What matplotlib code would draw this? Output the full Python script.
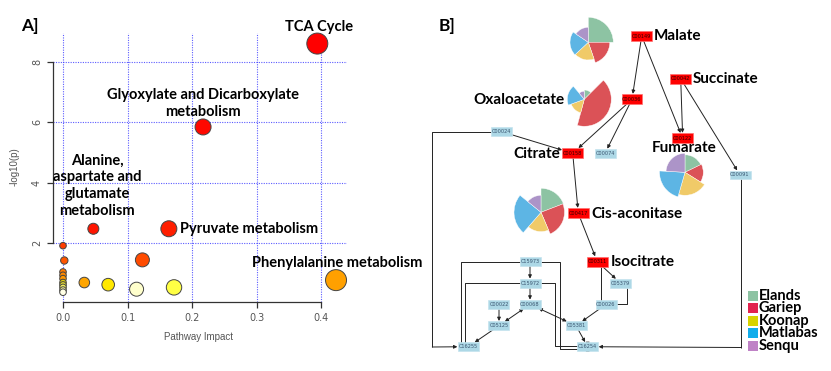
import matplotlib
matplotlib.use('Agg')
import matplotlib.pyplot as plt
from matplotlib.patches import Wedge, Rectangle, FancyArrowPatch

W, H = 831, 371
BOLD = ['Lato', 'DejaVu Sans']

# ---------------- panel A data ----------------
impact = [0.394, 0.217, 0.047, 0.164, 0.0, 0.002, 0.123, 0.0, 0.0, 0.0, 0.0, 0.0,
          0.0, 0.0, 0.0, 0.033, 0.070, 0.114, 0.172, 0.423]
logp = [8.6, 5.84, 2.47, 2.47, 1.91, 1.42, 1.44, 1.04, 0.93, 0.82, 0.69, 0.61,
        0.53, 0.44, 0.37, 0.69, 0.62, 0.47, 0.53, 0.77]
radius_px = [10.5, 8, 5.5, 8, 3.3, 3.7, 7, 3.3, 3.3, 3.3, 3.3, 3.3,
             3.3, 3.3, 3.3, 5.3, 6.3, 7, 7.7, 10.5]
point_colors = ['#FF0000', '#FF0800', '#FF1500', '#FF1E00', '#FF3C00', '#FF5500',
                '#FF4B00', '#FF7A00', '#FF8800', '#FF9600', '#DCCB10', '#E8E030',
                '#F2EE60', '#FAF8A0', '#FFFFE6', '#FFA500', '#FFE800', '#FFFFCC',
                '#FFFF44', '#FFA000']

pathway_labels = ['TCA Cycle', 'Glyoxylate and Dicarboxylate\nmetabolism',
                  'Alanine,\naspartate and\nglutamate\nmetabolism',
                  'Pyruvate metabolism', 'Phenylalanine metabolism']
label_xy = [(0.397, 9.15), (0.217, 6.62), (0.053, 3.9), (0.181, 2.47), (0.293, 1.34)]
label_ha = ['center', 'center', 'center', 'left', 'left']

# ---------------- panel B data ----------------
sites = ['Elands', 'Gariep', 'Koonap', 'Matlabas', 'Senqu']
legend_colors = ['#8DC3A3', '#E2234E', '#D8D400', '#12ADEB', '#BF82C6']
pie_colors = ['#8DC3A3', '#DB5257', '#F0CA68', '#5DB5E4', '#AC94C8']

pie_names = ['Malate', 'Oxaloacetate', 'Fumarate', 'Cis-aconitase']
pie_spans = [[90, 71, 66, 77, 56],
             [45, 150, 55, 70, 40],
             [64, 58, 74, 77, 87],
             [69, 88, 64, 88, 51]]
pie_radii = [[25, 21.5, 17.7, 18.3, 15],
             [9.3, 27, 14, 17, 8],
             [17.5, 18.3, 23, 25.5, 19],
             [24, 23.5, 19.3, 27, 17]]
pie_centers = [(588.3, 42.3), (584.3, 99.3), (685, 172.3), (541, 212.3)]

# KEGG compounds: name -> (x, y, hit)
nodes = {
    'C00149': (641.7, 36, True), 'C00042': (680.7, 78.7, True),
    'C00036': (632, 99.3, True), 'C00122': (682.7, 138.3, True),
    'C00158': (572.7, 153.3, True), 'C00417': (578.3, 213.3, True),
    'C00311': (597.3, 261.7, True),
    'C00024': (501.7, 131.7, False), 'C00074': (605, 153.3, False),
    'C00091': (740, 175, False), 'C15973': (530, 261.7, False),
    'C15972': (530, 283.3, False), 'C00068': (530, 304.3, False),
    'C00022': (499, 304.3, False), 'C05125': (499, 325.7, False),
    'C16255': (468.3, 346.7, False), 'C05379': (620.7, 283.3, False),
    'C00026': (606, 304.3, False), 'C05381': (576, 325.7, False),
    'C16254': (587.7, 346.7, False),
}
compound_names = {'C00149': ('Malate', 'left'), 'C00042': ('Succinate', 'left'),
                  'C00036': ('Oxaloacetate', 'right'), 'C00122': ('Fumarate', 'center'),
                  'C00158': ('Citrate', 'right'), 'C00417': ('Cis-aconitase', 'left'),
                  'C00311': ('Isocitrate', 'left')}
name_xy = {'C00149': (654, 36), 'C00042': (693, 78.7), 'C00036': (565, 100),
           'C00122': (684, 148), 'C00158': (560, 153.5), 'C00417': (591.5, 213.5),
           'C00311': (610.5, 262)}

edges = [('C00149', 'C00036', '-|>'), ('C00149', 'C00122', '-|>'),
         ('C00042', 'C00122', '-|>'), ('C00042', 'C00091', '-|>'),
         ('C00036', 'C00158', '-|>'), ('C00036', 'C00074', '-|>'),
         ('C00024', 'C00158', '-|>'), ('C00158', 'C00417', '-|>'),
         ('C00417', 'C00311', '-|>'), ('C00311', 'C05379', '-|>'),
         ('C00026', 'C05381', '-|>'), ('C00068', 'C05381', '<|-|>'),
         ('C05381', 'C16254', '-|>'), ('C15973', 'C15972', '-|>'),
         ('C15972', 'C00068', '-|>'), ('C00022', 'C05125', '-|>'),
         ('C05125', 'C00068', '<|-|>'), ('C05125', 'C16255', '-|>')]
# routed edges: source, waypoints, target
elbows = [('C00024', [(491, 131.7), (432.3, 131.7), (432.3, 347)], 'C16255'),
          ('C00091', [(741, 179), (741, 347.5)], 'C16254'),
          ('C15973', [(519.5, 262), (461, 262), (461, 346.7)], 'C16255'),
          ('C15972', [(519.5, 283.3), (465.5, 283.3), (465.5, 346.7)], 'C16255'),
          ('C15973', [(540.5, 262), (560, 262), (560, 349), (587.7, 349)], 'C16254'),
          ('C15972', [(540.5, 283.3), (554.5, 283.3), (554.5, 346), (587.7, 346)], 'C16254'),
          ('C00311', [(601, 266.7), (601, 304.3)], 'C00026'),
          ('C05379', [(626.5, 287.5), (626.5, 304.3), (606, 304.3)], 'C00026')]

fig = plt.figure(figsize=(W / 100, H / 100), dpi=100)


def fx(px):
    return px / W


def fy(py):
    return 1 - py / H


# ---------------- panel A ----------------
ax = fig.add_axes([fx(53), fy(302), fx(347) - fx(53), fy(33) - fy(302)])
ax.set_xlim(-0.0155, 0.44)
ax.set_ylim(0.046, 8.95)
sizes = [(2 * r * 0.72) ** 2 for r in radius_px]
ax.scatter(impact, logp, s=sizes, c=point_colors, edgecolors='#444444',
           linewidths=0.7, zorder=3, clip_on=False)
ax.set_xticks([0, 0.1, 0.2, 0.3, 0.4])
ax.set_xticklabels(['0.0', '0.1', '0.2', '0.3', '0.4'])
ax.set_yticks([2, 4, 6, 8])
ax.grid(True, color='#3333FF', linestyle=(0, (1, 1.2)), linewidth=0.8, alpha=0.8)
for s in ['top', 'right']:
    ax.spines[s].set_visible(False)
ax.spines['left'].set_bounds(2, 8)
ax.spines['bottom'].set_bounds(0, 0.4)
for s in ['left', 'bottom']:
    ax.spines[s].set_color('#333333')
    ax.spines[s].set_linewidth(0.9)
ax.tick_params(length=4, width=0.9, color='#333333', labelsize=7,
               labelcolor='#555555', pad=4)
for t in ax.get_yticklabels():
    t.set_rotation(90)
    t.set_va('center')
ax.set_facecolor('none')
for name, (lx, ly), ha in zip(pathway_labels, label_xy, label_ha):
    ax.text(lx, ly, name, ha=ha, va='center', fontsize=10.5, fontweight='bold',
            family=BOLD, linespacing=1.25, clip_on=False, zorder=4)

fig.text(fx(199), fy(337), 'Pathway Impact', ha='center', va='center',
         fontsize=7, color='#555555', family='Liberation Sans')
fig.text(fx(15), fy(167), '-log10(p)', ha='center', va='center', rotation=90,
         fontsize=7, color='#555555', family='Liberation Sans')
fig.text(fx(30), fy(26), 'A]', ha='center', va='center', fontsize=12.5,
         fontweight='bold', family=BOLD)
fig.text(fx(447), fy(26), 'B]', ha='center', va='center', fontsize=12.5,
         fontweight='bold', family=BOLD)

# ---------------- panel B ----------------
bx = fig.add_axes([fx(420), 0, 1 - fx(420), 1])
bx.set_xlim(420, W)
bx.set_ylim(H, 0)
bx.axis('off')
bx.set_facecolor('none')

# pies (clockwise from 12 o'clock, screen angles -> data angles with inverted y)
for (cx, cy), spans, radii in zip(pie_centers, pie_spans, pie_radii):
    a = 90
    for span, r, col in zip(spans, radii, pie_colors):
        a2 = a - span
        bx.add_patch(Wedge((cx, cy), r, -a, -a2, facecolor=col, edgecolor='white',
                           linewidth=0.3, zorder=2))
        a = a2

boxes = {}
for name, (x, y, hit) in nodes.items():
    if hit:
        w, h, fc, ec, tc = 20.5, 10, '#FF0000', '#FF7070', '#330000'
    else:
        w, h, fc, ec, tc = 21, 8.5, '#ADD8E6', '#C5E3EE', '#3A5570'
    rect = Rectangle((x - w / 2, y - h / 2), w, h, facecolor=fc, edgecolor=ec,
                     linewidth=0.5, zorder=5)
    bx.add_patch(rect)
    boxes[name] = rect
    bx.text(x, y, name, ha='center', va='center', fontsize=3.6, color=tc,
            family='DejaVu Sans', zorder=6)

for c, (label, ha) in compound_names.items():
    tx, ty = name_xy[c]
    bx.text(tx, ty, label, ha=ha, va='center', fontsize=11, fontweight='bold',
            family=BOLD, zorder=7)

line_kw = dict(color='#222222', linewidth=0.7)


def arrow(p0, p1, style, pa=None, pb=None):
    bx.add_patch(FancyArrowPatch(p0, p1, patchA=pa, patchB=pb, arrowstyle=style,
                                 mutation_scale=5, shrinkA=0, shrinkB=0.5,
                                 zorder=4, **line_kw))


for a_, b_, style in edges:
    xa, ya, _ = nodes[a_]
    xb, yb, _ = nodes[b_]
    arrow((xa, ya), (xb, yb), style, boxes[a_], boxes[b_])

for src, pts, dst in elbows:
    xs = [p[0] for p in pts]
    ys = [p[1] for p in pts]
    bx.plot(xs, ys, zorder=4, solid_capstyle='butt', **line_kw)
    xb, yb, _ = nodes[dst]
    arrow(pts[-1], (xb, yb), '-|>', None, boxes[dst])

# legend
for i, (site, col) in enumerate(zip(sites, legend_colors)):
    y = 295.7 + i * 12.5
    bx.add_patch(Rectangle((748, y - 5), 10, 10, facecolor=col, edgecolor='none'))
    bx.text(758.5, y, site, ha='left', va='center', fontsize=10.5,
            fontweight='bold', family=BOLD)

fig.savefig('out.png', dpi=100)
